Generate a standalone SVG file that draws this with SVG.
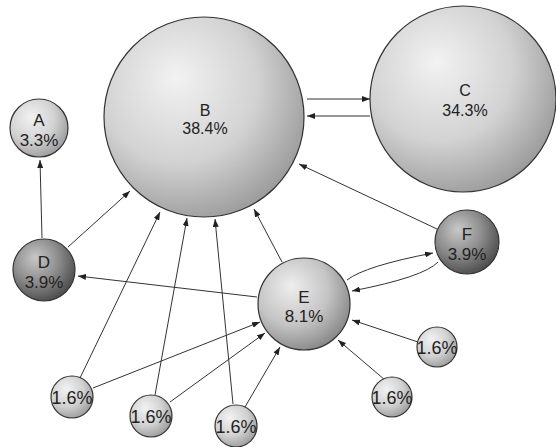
<svg xmlns="http://www.w3.org/2000/svg" width="556" height="447" viewBox="0 0 556 447">
<defs>
<radialGradient id="gLight" cx="0.38" cy="0.36" r="0.72" fx="0.36" fy="0.3">
<stop offset="0" stop-color="#f2f2f2"/>
<stop offset="0.55" stop-color="#d2d2d2"/>
<stop offset="1" stop-color="#959595"/>
</radialGradient>
<radialGradient id="gMid" cx="0.38" cy="0.36" r="0.72" fx="0.36" fy="0.3">
<stop offset="0" stop-color="#eeeeee"/>
<stop offset="0.55" stop-color="#c4c4c4"/>
<stop offset="1" stop-color="#808080"/>
</radialGradient>
<radialGradient id="gDark" cx="0.38" cy="0.36" r="0.72" fx="0.36" fy="0.3">
<stop offset="0" stop-color="#c8c8c8"/>
<stop offset="0.5" stop-color="#8e8e8e"/>
<stop offset="1" stop-color="#444444"/>
</radialGradient>
<marker id="arr" markerUnits="userSpaceOnUse" markerWidth="8" markerHeight="6" refX="8" refY="3" orient="auto">
<path d="M0,0 L8,3 L0,6 z" fill="#222"/>
</marker>
</defs>
<style>
.node circle{stroke:#333;stroke-width:1.2}
.lbl{font-family:"Liberation Sans",Arial,sans-serif;fill:#222;text-anchor:middle}
.big{font-size:16px}
.med{font-size:17px}
.sm{font-size:18px}
.edge{fill:none;stroke:#333;stroke-width:1;marker-end:url(#arr)}
</style>
<g id="connectors">
<path class="edge" d="M42,238 L40,160"/>
<path class="edge" d="M68,247 L130,191"/>
<path class="edge" d="M257,297 L78,276"/>
<path class="edge" d="M282,262 L254,209"/>
<path class="edge" d="M437,229 L299,164"/>
<path class="edge" d="M307,99 L370,99"/>
<path class="edge" d="M370,116 L307,116"/>
<path class="edge" d="M347,280 Q365,266 433,253"/>
<path class="edge" d="M438,262 Q424,277 352,291"/>
<path class="edge" d="M80,378 L160,212"/>
<path class="edge" d="M93,388 L260,322"/>
<path class="edge" d="M155,395 L187,218"/>
<path class="edge" d="M170,402 L265,333"/>
<path class="edge" d="M233,404 L215,219"/>
<path class="edge" d="M245,407 L280,347"/>
<path class="edge" d="M385,380 L338,340"/>
<path class="edge" d="M418,342 L352,320"/>
</g>
<g id="nodeB" class="node"><circle cx="204" cy="117" r="100" fill="url(#gLight)"/><text class="lbl big" x="205" y="116">B</text><text class="lbl big" x="205" y="134">38.4%</text></g>
<g id="nodeC" class="node"><circle cx="463" cy="99" r="93" fill="url(#gLight)"/><text class="lbl big" x="465" y="96">C</text><text class="lbl big" x="465" y="116">34.3%</text></g>
<g id="nodeA" class="node"><circle cx="39" cy="128" r="29" fill="url(#gLight)"/><text class="lbl med" x="39" y="126">A</text><text class="lbl med" x="39" y="146">3.3%</text></g>
<g id="nodeD" class="node"><circle cx="44" cy="270" r="31" fill="url(#gDark)"/><text class="lbl med" x="44" y="268">D</text><text class="lbl med" x="44" y="288">3.9%</text></g>
<g id="nodeE" class="node"><circle cx="304" cy="304" r="46" fill="url(#gMid)"/><text class="lbl med" x="304" y="303">E</text><text class="lbl med" x="304" y="322">8.1%</text></g>
<g id="nodeF" class="node"><circle cx="467" cy="242" r="32" fill="url(#gDark)"/><text class="lbl med" x="467" y="240">F</text><text class="lbl med" x="467" y="260">3.9%</text></g>
<g id="nodeS1" class="node"><circle cx="72" cy="397" r="21" fill="url(#gLight)"/><text class="lbl sm" x="72" y="404">1.6%</text></g>
<g id="nodeS2" class="node"><circle cx="151" cy="416" r="21" fill="url(#gLight)"/><text class="lbl sm" x="151" y="423">1.6%</text></g>
<g id="nodeS3" class="node"><circle cx="236" cy="426" r="21" fill="url(#gLight)"/><text class="lbl sm" x="236" y="433">1.6%</text></g>
<g id="nodeS4" class="node"><circle cx="392" cy="397" r="20" fill="url(#gLight)"/><text class="lbl sm" x="392" y="404">1.6%</text></g>
<g id="nodeS5" class="node"><circle cx="437" cy="347" r="20" fill="url(#gLight)"/><text class="lbl sm" x="437" y="354">1.6%</text></g>
</svg>
